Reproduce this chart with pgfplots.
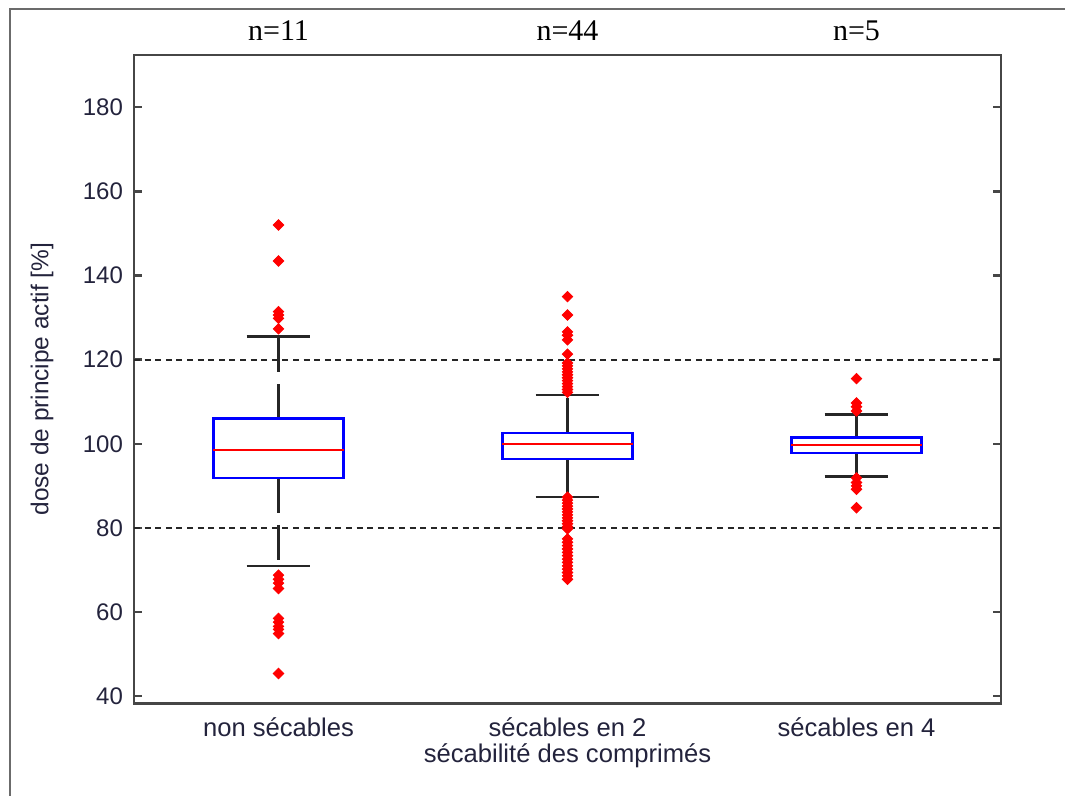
\documentclass[border=0pt]{standalone}
\usepackage{pgfplots}
\pgfplotsset{compat=1.18}
\usepackage{fontspec}
\setmainfont{Liberation Sans}
\newfontfamily\timesfont{Liberation Serif}
\definecolor{txt}{RGB}{35,35,60}
\definecolor{axgray}{RGB}{70,70,70}
\definecolor{mblue}{RGB}{0,0,255}
\definecolor{mred}{RGB}{255,0,0}
\begin{document}
\begin{tikzpicture}
\path[use as bounding box] (0,0) rectangle (532.5pt,398pt);
\draw[axgray!80, line width=1pt] (5pt,0) -- (5pt,393.5pt) -- (532.5pt,393.5pt);
\begin{axis}[
  at={(67pt,46.3pt)}, anchor=south west,
  width=433.5pt, height=324.2pt, scale only axis,
  xmin=0.5, xmax=3.5, ymin=38.3, ymax=192.4,
  xtick={1,2,3},
  xticklabels={non sécables, sécables en 2, sécables en 4},
  ytick={40,60,...,180},
  ytick pos=both, xtick pos=bottom,
  tick align=inside,
  major tick length=4pt,
  x tick style={draw=none},
  y tick style={axgray, line width=1.2pt},
  axis line style={axgray, line width=1.3pt},
  /pgf/number format/assume math mode=true,
  tick label style={font=\fontsize{12}{14}\selectfont, text=txt},
  yticklabel style={xshift=-2pt},
  xticklabel style={anchor=base, yshift=-16.5pt, font=\fontsize{12.8}{14}\selectfont},
  xlabel={sécabilité des comprimés},
  ylabel={dose de principe actif [\%]},
  every axis x label/.style={at={(axis description cs:0.5,0)}, yshift=-29.8pt, anchor=base, font=\fontsize{12.8}{14}\selectfont, text=txt},
  every axis y label/.style={at={(axis description cs:-0.106,0.5)}, rotate=90, anchor=center, font=\fontsize{12.2}{14}\selectfont, text=txt},
  clip=false,
]
% reference lines
\addplot[black!85, line width=1.1pt, dash pattern=on 3pt off 2.3pt] coordinates {(0.5,120) (3.5,120)};
\addplot[black!85, line width=1.1pt, dash pattern=on 3pt off 2.3pt] coordinates {(0.5,80) (3.5,80)};

% ---------- group 1 : non secables ----------
\addplot[black!85, line width=1.2pt, dash pattern=on 17.5pt off 6pt] coordinates {(1,106.0) (1,125.45)};
\addplot[black!85, line width=1.2pt, dash pattern=on 17.5pt off 6pt] coordinates {(1,91.9) (1,70.9)};
\addplot[black!85, line width=1.2pt] coordinates {(0.89,125.45) (1.11,125.45)};
\addplot[black!85, line width=1.2pt] coordinates {(0.89,70.9) (1.11,70.9)};
\addplot[mblue, line width=1.1pt, line cap=rect] coordinates {(0.775,91.9) (1.225,91.9) (1.225,106.0) (0.775,106.0) (0.775,91.9)};
\addplot[mred, line width=0.9pt] coordinates {(0.775,98.5) (1.225,98.5)};

% ---------- group 2 : secables en 2 ----------
\addplot[black!85, line width=1.2pt, dash pattern=on 17.5pt off 6pt] coordinates {(2,102.5) (2,111.6)};
\addplot[black!85, line width=1.2pt, dash pattern=on 17.5pt off 6pt] coordinates {(2,96.4) (2,87.4)};
\addplot[black!85, line width=1.2pt] coordinates {(1.89,111.6) (2.11,111.6)};
\addplot[black!85, line width=1.2pt] coordinates {(1.89,87.4) (2.11,87.4)};
\addplot[mblue, line width=1.1pt, line cap=rect] coordinates {(1.775,96.4) (2.225,96.4) (2.225,102.5) (1.775,102.5) (1.775,96.4)};
\addplot[mred, line width=0.9pt] coordinates {(1.775,99.9) (2.225,99.9)};

% ---------- group 3 : secables en 4 ----------
\addplot[black!85, line width=1.2pt, dash pattern=on 17.5pt off 6pt] coordinates {(3,101.5) (3,107.0)};
\addplot[black!85, line width=1.2pt, dash pattern=on 17.5pt off 6pt] coordinates {(3,97.9) (3,92.2)};
\addplot[black!85, line width=1.2pt] coordinates {(2.89,107.0) (3.11,107.0)};
\addplot[black!85, line width=1.2pt] coordinates {(2.89,92.2) (3.11,92.2)};
\addplot[mblue, line width=1.1pt, line cap=rect] coordinates {(2.775,97.9) (3.225,97.9) (3.225,101.5) (2.775,101.5) (2.775,97.9)};
\addplot[mred, line width=0.9pt] coordinates {(2.775,99.7) (3.225,99.7)};

% ---------- outliers ----------
\addplot[only marks, mark=square*, mark size=1.85pt, mark options={rotate=45, fill=mred, draw=mred, line width=0.4pt}] coordinates {
 (1,152.0) (1,143.45) (1,131.4) (1,130.6) (1,129.8) (1,127.3)
 (1,68.8) (1,67.8) (1,66.9) (1,65.6) (1,58.5) (1,57.6) (1,56.6) (1,55.9) (1,54.9) (1,45.4)
 (2,134.96) (2,130.6) (2,126.6) (2,125.8) (2,124.7) (2,121.3)
 (2,119.2) (2,118.5) (2,117.8) (2,117.1) (2,116.4) (2,115.7) (2,115.0) (2,114.3) (2,113.6) (2,112.9) (2,112.2)
 (2,87.3) (2,86.6) (2,85.9) (2,85.2) (2,84.5) (2,83.8) (2,83.1) (2,82.4) (2,81.7) (2,81.0) (2,80.3) (2,79.8)
 (2,77.4) (2,76.6) (2,75.8) (2,75.0) (2,74.2) (2,73.4) (2,72.6) (2,71.8) (2,71.0) (2,70.2) (2,69.4) (2,68.6) (2,67.8)
 (3,115.5) (3,109.7) (3,108.8) (3,107.8)
 (3,91.9) (3,90.8) (3,90.0) (3,89.2) (3,84.8)
};

% ---------- group sizes ----------
\node[anchor=base, font=\timesfont\fontsize{15}{17}\selectfont, text=black] at (axis cs:1,195.8) {n=11};
\node[anchor=base, font=\timesfont\fontsize{15}{17}\selectfont, text=black] at (axis cs:2,195.8) {n=44};
\node[anchor=base, font=\timesfont\fontsize{15}{17}\selectfont, text=black] at (axis cs:3,195.8) {n=5};
\end{axis}
\end{tikzpicture}
\end{document}
